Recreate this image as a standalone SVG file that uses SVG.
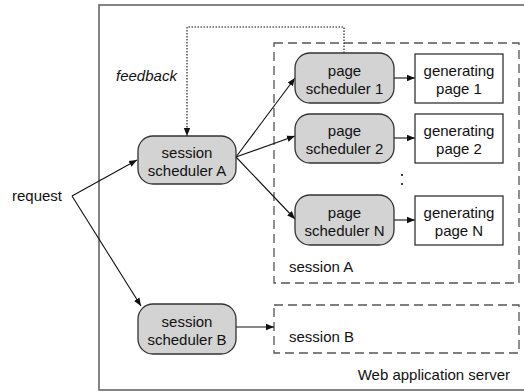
<svg xmlns="http://www.w3.org/2000/svg" width="524" height="392" viewBox="0 0 524 392">
  <style>
    text { font-family: "Liberation Sans", Arial, sans-serif; font-size: 15px; fill: #111; }
    .mid { text-anchor: middle; }
    .sched { fill: #d3d3d3; stroke: #333; stroke-width: 1.3; }
    .job { fill: #fff; stroke: #333; stroke-width: 1.3; }
    .server { fill: none; stroke: #666; stroke-width: 1.6; }
    .session { fill: none; stroke: #555; stroke-width: 1.3; stroke-dasharray: 9 5; }
    .edge { fill: none; stroke: #111; stroke-width: 1.1; }
    .fb { fill: none; stroke: #111; stroke-width: 1.1; stroke-dasharray: 1.5 1.5; }
  </style>
  <defs>
    <marker id="arrow" viewBox="0 0 10 10" refX="10" refY="5" markerWidth="8" markerHeight="8" markerUnits="userSpaceOnUse" orient="auto">
      <path d="M0,1 L10,5 L0,9 z" fill="#111"/>
    </marker>
  </defs>

  <rect width="524" height="392" fill="#fff"/>

  <!-- application server frame -->
  <g id="server">
    <rect class="server" x="99" y="5" width="440" height="385"/>
    <text x="510" y="380" text-anchor="end">Web application server</text>
  </g>

  <!-- session containers -->
  <g id="sessionA">
    <rect class="session" x="274" y="43" width="245" height="240"/>
    <text x="289" y="272">session A</text>
  </g>
  <g id="sessionB">
    <rect class="session" x="274" y="305" width="245" height="48"/>
    <text x="289" y="342">session B</text>
  </g>

  <!-- connectors -->
  <g id="connectors">
    <line class="edge" x1="72" y1="196" x2="137" y2="160" marker-end="url(#arrow)"/>
    <line class="edge" x1="72" y1="196" x2="141" y2="306" marker-end="url(#arrow)"/>
    <line class="edge" x1="236" y1="157" x2="295" y2="78" marker-end="url(#arrow)"/>
    <line class="edge" x1="236" y1="157" x2="295" y2="136" marker-end="url(#arrow)"/>
    <line class="edge" x1="236" y1="157" x2="295" y2="219" marker-end="url(#arrow)"/>
    <line class="edge" x1="394" y1="78" x2="415" y2="78" marker-end="url(#arrow)"/>
    <line class="edge" x1="394" y1="138" x2="415" y2="138" marker-end="url(#arrow)"/>
    <line class="edge" x1="394" y1="220" x2="415" y2="220" marker-end="url(#arrow)"/>
    <line class="edge" x1="236" y1="327" x2="274" y2="327" marker-end="url(#arrow)"/>
    <polyline class="fb" points="344,53 344,27 187,27 187,136" marker-end="url(#arrow)"/>
    <text x="116" y="81" font-style="italic">feedback</text>
  </g>

  <g id="request">
    <text x="12" y="201">request</text>
  </g>

  <!-- session schedulers -->
  <g id="schedA">
    <rect class="sched" x="138" y="136" width="98" height="48" rx="15"/>
    <text class="mid" x="187" y="158">session</text>
    <text class="mid" x="187" y="176">scheduler A</text>
  </g>
  <g id="schedB">
    <rect class="sched" x="138" y="304" width="98" height="50" rx="15"/>
    <text class="mid" x="187" y="327">session</text>
    <text class="mid" x="187" y="345">scheduler B</text>
  </g>

  <!-- page schedulers -->
  <g id="page1">
    <rect class="sched" x="295" y="53" width="99" height="50" rx="15"/>
    <text class="mid" x="344.5" y="76">page</text>
    <text class="mid" x="344.5" y="94">scheduler 1</text>
  </g>
  <g id="page2">
    <rect class="sched" x="295" y="114" width="99" height="49" rx="15"/>
    <text class="mid" x="344.5" y="136">page</text>
    <text class="mid" x="344.5" y="154">scheduler 2</text>
  </g>
  <g id="pageN">
    <rect class="sched" x="295" y="195" width="99" height="50" rx="15"/>
    <text class="mid" x="344.5" y="218">page</text>
    <text class="mid" x="344.5" y="236">scheduler N</text>
  </g>

  <!-- page generation jobs -->
  <g id="gen1">
    <rect class="job" x="415" y="54" width="88" height="49"/>
    <text class="mid" x="459" y="76">generating</text>
    <text class="mid" x="459" y="94">page 1</text>
  </g>
  <g id="gen2">
    <rect class="job" x="415" y="114" width="88" height="49"/>
    <text class="mid" x="459" y="136">generating</text>
    <text class="mid" x="459" y="154">page 2</text>
  </g>
  <g id="genN">
    <rect class="job" x="415" y="196" width="88" height="49"/>
    <text class="mid" x="459" y="218">generating</text>
    <text class="mid" x="459" y="236">page N</text>
  </g>

  <g id="ellipsis">
    <circle cx="402" cy="175" r="1.1" fill="#111"/>
    <circle cx="402" cy="184" r="1.1" fill="#111"/>
  </g>
</svg>
